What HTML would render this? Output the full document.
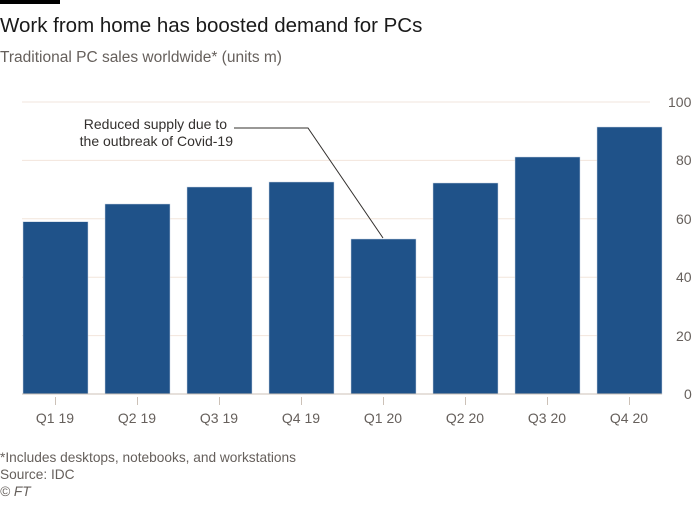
<!DOCTYPE html>
<html><head><meta charset="utf-8"><style>
html,body{margin:0;padding:0;background:#fff;}
body{width:700px;height:500px;overflow:hidden;font-family:"Liberation Sans",sans-serif;}
</style></head><body>
<svg width="700" height="500" xmlns="http://www.w3.org/2000/svg" font-family="Liberation Sans, sans-serif">
<rect x="0" y="0" width="60" height="4" fill="#000"/>
<text x="0" y="32" font-size="20.5" fill="#1a1a1a">Work from home has boosted demand for PCs</text>
<text x="0" y="62" font-size="15.5" fill="#66605c">Traditional PC sales worldwide* (units m)</text>
<g stroke="#f2e5dc" stroke-width="1">
<line x1="22" y1="102" x2="650" y2="102"/>
<line x1="22" y1="160.4" x2="650" y2="160.4"/>
<line x1="22" y1="218.8" x2="650" y2="218.8"/>
<line x1="22" y1="277.2" x2="650" y2="277.2"/>
<line x1="22" y1="335.6" x2="650" y2="335.6"/>
</g>
<g font-size="14" fill="#66605c">
<text x="668" y="107">100</text>
<text x="676" y="165">80</text>
<text x="676" y="224">60</text>
<text x="676" y="282">40</text>
<text x="676" y="341">20</text>
<text x="684" y="399">0</text>
</g>
<g fill="#1f5289" stroke="#c8d4e2" stroke-width="0.5">
<rect x="23" y="221.7" width="65" height="172.3"/>
<rect x="105" y="204" width="65" height="190"/>
<rect x="187" y="187" width="65" height="207"/>
<rect x="269" y="182" width="65" height="212"/>
<rect x="351" y="239" width="65" height="155"/>
<rect x="433" y="183" width="65" height="211"/>
<rect x="515" y="157" width="65" height="237"/>
<rect x="597" y="127" width="65" height="267"/>
</g>
<line x1="22" y1="394" x2="662" y2="394" stroke="#ccc1b7" stroke-width="1"/>
<g stroke="#ccc1b7">
<line x1="55.5" y1="397" x2="55.5" y2="405"/><line x1="137.5" y1="397" x2="137.5" y2="405"/>
<line x1="219.5" y1="397" x2="219.5" y2="405"/><line x1="301.5" y1="397" x2="301.5" y2="405"/>
<line x1="383.5" y1="397" x2="383.5" y2="405"/><line x1="465.5" y1="397" x2="465.5" y2="405"/>
<line x1="547.5" y1="397" x2="547.5" y2="405"/><line x1="629.5" y1="397" x2="629.5" y2="405"/>
</g>
<g font-size="14" fill="#66605c" text-anchor="middle">
<text x="55" y="423">Q1 19</text><text x="137" y="423">Q2 19</text>
<text x="219" y="423">Q3 19</text><text x="301" y="423">Q4 19</text>
<text x="383" y="423">Q1 20</text><text x="465" y="423">Q2 20</text>
<text x="547" y="423">Q3 20</text><text x="629" y="423">Q4 20</text>
</g>
<g font-size="14" fill="#33302e" text-anchor="end">
<text x="227" y="129">Reduced supply due to</text>
<text x="233" y="146">the outbreak of Covid-19</text>
</g>
<polyline points="234,128 308,128 383,238" fill="none" stroke="#33302e" stroke-width="1"/>
<g font-size="13.7" fill="#66605c">
<text x="0" y="462">*Includes desktops, notebooks, and workstations</text>
<text x="0" y="479">Source: IDC</text>
<text x="0" y="496" font-style="italic">© FT</text>
</g>
</svg>
</body></html>
